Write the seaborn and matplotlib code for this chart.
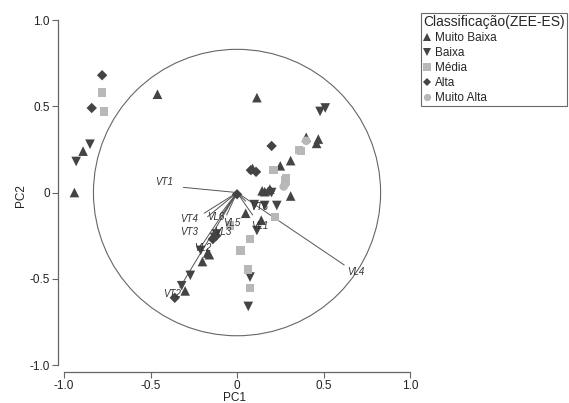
import numpy as np
import pandas as pd
import matplotlib
matplotlib.use("Agg")
import matplotlib.pyplot as plt
import seaborn as sns
from matplotlib.patches import Circle

sns.set_theme(style="white")
plt.rcParams['font.family'] = ['Liberation Sans', 'DejaVu Sans']

# ---- data ----
classes = ["Muito Baixa", "Baixa", "Média", "Alta", "Muito Alta"]

mb_x = [-0.46, 0.115, -0.89, -0.94, 0.47, 0.46, 0.40, 0.31, 0.25, 0.09, 0.31, 0.145, 0.19, 0.05, 0.14, -0.17, -0.20, -0.30, 0.16, -0.16]
mb_y = [0.57, 0.55, 0.24, 0.00, 0.31, 0.285, 0.32, 0.185, 0.155, 0.14, -0.02, 0.01, 0.02, -0.12, -0.16, -0.35, -0.40, -0.57, 0.005, -0.36]

b_x = [-0.85, -0.93, 0.48, 0.51, 0.10, 0.16, 0.23, 0.115, 0.075, 0.065, -0.21, -0.27, -0.32, 0.20, -0.13, -0.12]
b_y = [0.28, 0.18, 0.47, 0.49, -0.07, -0.075, -0.075, -0.22, -0.49, -0.66, -0.335, -0.48, -0.54, 0.00, -0.26, -0.24]

m_x = [-0.78, -0.77, 0.37, 0.21, 0.28, -0.04, 0.22, 0.075, 0.02, 0.065, 0.075, 0.36, 0.285]
m_y = [0.58, 0.47, 0.24, 0.13, 0.07, -0.19, -0.14, -0.27, -0.335, -0.445, -0.555, 0.245, 0.085]

a_x = [-0.78, -0.84, 0.20, 0.11, -0.36, -0.14, -0.12, 0.00, 0.19, 0.08]
a_y = [0.68, 0.49, 0.27, 0.12, -0.61, -0.27, -0.25, -0.01, 0.01, 0.13]

ma_x = [0.40, 0.28, 0.27]
ma_y = [0.30, 0.05, 0.035]

load_names = ["VT1", "VT4", "VT3", "VL3", "VL5", "VT6", "VL1", "VL2", "VT2", "VL4", "VL6"]
load_x = [-0.31, -0.19, -0.17, -0.10, -0.06, 0.05, 0.09, -0.20, -0.33, 0.62, -0.08]
load_y = [0.03, -0.12, -0.14, -0.13, -0.13, -0.05, -0.13, -0.30, -0.55, -0.42, -0.12]

xticks = [-1.0, -0.5, 0, 0.5, 1.0]
xtick_labels = ["-1.0", "-0.5", "0", "0.5", "1.0"]
yticks = [-1.0, -0.5, 0, 0.5, 1.0]
ytick_labels = ["-1.0", "-0.5", "0", "0.5", "1.0"]

# ---- build table ----
parts = []
for name, xs, ys in zip(classes, [mb_x, b_x, m_x, a_x, ma_x], [mb_y, b_y, m_y, a_y, ma_y]):
    parts.append(pd.DataFrame({"PC1": xs, "PC2": ys, "Classificação(ZEE-ES)": name}))
df = pd.concat(parts, ignore_index=True)

dark = "#444444"
light = "#b8b8b8"
palette = {"Muito Baixa": dark, "Baixa": dark, "Média": light, "Alta": dark, "Muito Alta": light}
markers = {"Muito Baixa": "^", "Baixa": "v", "Média": "s", "Alta": "D", "Muito Alta": "o"}
sizes = {"Muito Baixa": 48, "Baixa": 48, "Média": 36, "Alta": 28, "Muito Alta": 38}

fig = plt.figure(figsize=(5.69, 4.03), dpi=100)
ax = fig.add_axes([58/569, 1-372/403, 352/569, 352/403])

# loadings
label_off = {"VT1": (-14, 4), "VT4": (-11, -4), "VT3": (-13, -11), "VL3": (2, -12), "VL5": (4, -6),
             "VT6": (10, -4), "VL1": (5, -8), "VL2": (0, -3), "VT2": (-6, -5), "VL4": (8, -5), "VL6": (-5, -3)}
for n, lx, ly in zip(load_names, load_x, load_y):
    ax.plot([0, lx], [0, ly], color="#555555", lw=0.7, zorder=1)
    ax.annotate(n, (lx, ly), xytext=label_off[n], textcoords="offset points",
                fontsize=7, style="italic", color="#333333", ha="center", va="center", zorder=4)

ax.add_patch(Circle((0, 0), 0.83, fill=False, edgecolor="#666666", lw=0.8, zorder=0))

sns.scatterplot(data=df, x="PC1", y="PC2", hue="Classificação(ZEE-ES)", style="Classificação(ZEE-ES)",
                size="Classificação(ZEE-ES)", sizes=sizes,
                palette=palette, markers=markers, hue_order=classes, style_order=classes, size_order=classes,
                linewidth=0, ax=ax, zorder=3)

ax.set_xlim(-1.035, 1.0)
ax.set_ylim(-1.04, 1.0)
ax.set_xticks(xticks)
ax.set_xticklabels(xtick_labels)
ax.set_yticks(yticks)
ax.set_yticklabels(ytick_labels)
for s in ["top", "right"]:
    ax.spines[s].set_visible(False)
for s in ["left", "bottom"]:
    ax.spines[s].set_color("#666666")
    ax.spines[s].set_linewidth(0.9)
ax.spines["left"].set_bounds(-1.0, 1.0)
ax.spines["bottom"].set_bounds(-1.0, 1.0)
ax.tick_params(axis="both", direction="out", length=4, width=0.8, color="#666666",
               labelsize=8.5, labelcolor="#222222", pad=2, left=True, bottom=True)
ax.set_xlabel("PC1", fontsize=8.5, color="#222222", labelpad=0)
ax.set_ylabel("PC2", fontsize=8.5, color="#222222", labelpad=2)
ax.grid(False)

h, l = ax.get_legend_handles_labels()
ax.get_legend().remove()
leg = fig.legend(h, l, title="Classificação(ZEE-ES)", loc="upper left",
                 bbox_to_anchor=(421/569, 1-13/403), frameon=True, fancybox=False,
                 fontsize=8.5, title_fontsize=10, handlelength=0.6, handletextpad=0.4,
                 borderpad=0.2, labelspacing=0.25, borderaxespad=0, markerscale=0.85)
leg._legend_box.align = "left"
leg.get_frame().set_edgecolor("#444444")
leg.get_frame().set_linewidth(0.8)

fig.savefig("out.png", dpi=100)
